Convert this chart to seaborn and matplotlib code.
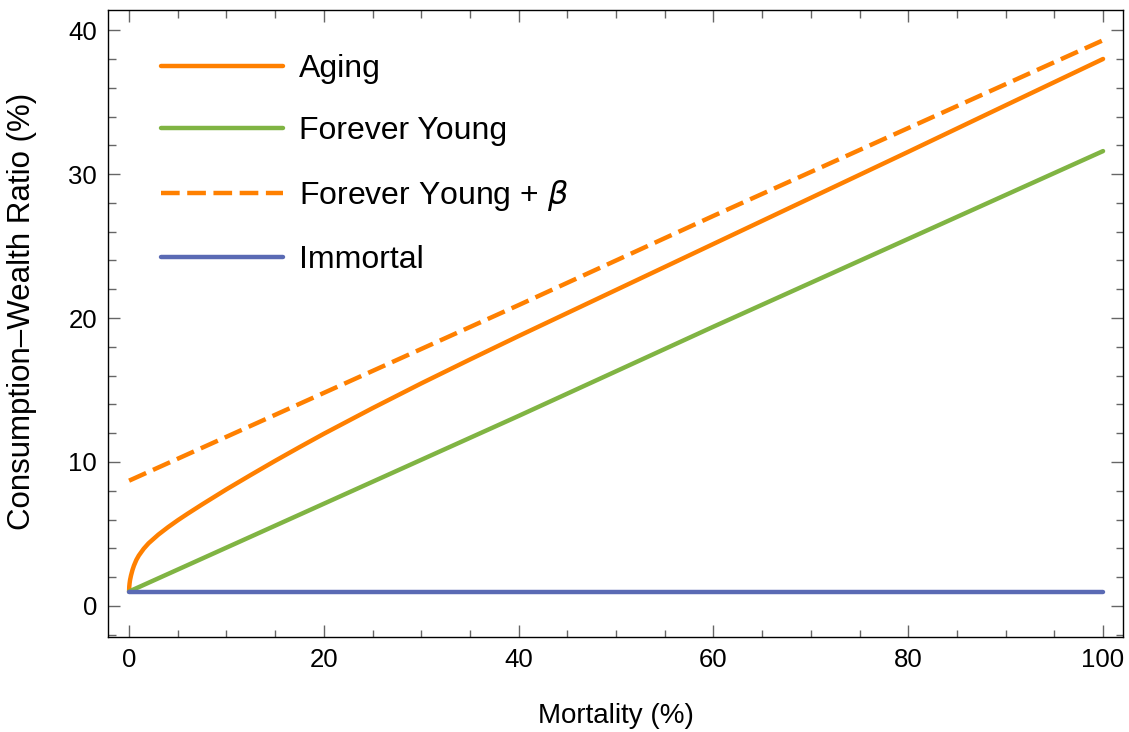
import numpy as np
import pandas as pd
import matplotlib.pyplot as plt
from matplotlib.ticker import MultipleLocator
import seaborn as sns

# values (mortality %, consumption-wealth ratio %)
mortality_aging = [0, 0.02, 0.05, 0.1, 0.2, 0.35, 0.5, 0.75, 1, 1.5, 2, 3, 4, 5, 6, 7.5, 10, 12.5, 15, 17.5,
                   20, 25, 30, 35, 40, 50, 60, 70, 80, 90, 100]
cw_aging = [1.0, 1.35, 1.56, 1.8, 2.12, 2.5, 2.8, 3.2, 3.5, 3.97, 4.35, 4.95, 5.47, 5.95, 6.4, 7.05, 8.1, 9.1,
            10.08, 11.03, 11.96, 13.74, 15.46, 17.12, 18.75, 21.95, 25.15, 28.35, 31.55, 34.78, 38.0]

mortality_lin = [0, 20, 40, 60, 80, 100]
cw_forever_young = [1.0, 7.1, 13.2, 19.4, 25.5, 31.6]
cw_forever_young_beta = [8.7, 14.8, 20.9, 27.1, 33.2, 39.3]
cw_immortal = [1.0, 1.0, 1.0, 1.0, 1.0, 1.0]

orange = '#FF8000'
green = '#80B443'
blue = '#5A6AB4'

sns.set_style("ticks")
plt.rcParams['font.family'] = ['Liberation Sans', 'DejaVu Sans']
plt.rcParams['mathtext.fontset'] = 'dejavusans'
plt.rcParams['text.color'] = 'black'
plt.rcParams['axes.labelcolor'] = 'black'

fig, ax = plt.subplots(figsize=(11.29, 7.32), dpi=100)
fig.subplots_adjust(left=0.0957, right=0.9947, top=0.9863, bottom=0.1298)

lw = 3.2
sns.lineplot(x=mortality_aging, y=cw_aging, ax=ax, color=orange, lw=lw, label='Aging')
sns.lineplot(x=mortality_lin, y=cw_forever_young, ax=ax, color=green, lw=lw, label='Forever Young')
sns.lineplot(x=mortality_lin, y=cw_forever_young_beta, ax=ax, color=orange, lw=lw,
             label=r'Forever Young + $\beta$')
ax.lines[-1].set_linestyle((0, (4.2, 1.7)))
ax.lines[-1].set_dash_capstyle('butt')
sns.lineplot(x=mortality_lin, y=cw_immortal, ax=ax, color=blue, lw=lw, label='Immortal')

ax.set_xlim(-2.16, 102.05)
ax.set_ylim(-2.16, 41.4)
ax.xaxis.set_major_locator(MultipleLocator(20))
ax.xaxis.set_minor_locator(MultipleLocator(5))
ax.yaxis.set_major_locator(MultipleLocator(10))
ax.yaxis.set_minor_locator(MultipleLocator(2))
ax.tick_params(which='both', direction='in', top=True, right=True, color='#666666', width=1.0,
               labelcolor='black')
ax.tick_params(which='major', length=8.6, pad=8, labelsize=18.5)
ax.tick_params(which='minor', length=5.4)
for sp in ax.spines.values():
    sp.set_linewidth(1.0)
    sp.set_color('black')

ax.set_xlabel('Mortality (%)', fontsize=20)
ax.set_ylabel('Consumption–Wealth Ratio (%)', fontsize=22.5)
ax.xaxis.set_label_coords(0.5, -0.106)
ax.yaxis.set_label_coords(-0.07, 0.52)

leg = ax.legend(loc='upper left', bbox_to_anchor=(0.024, 0.975), frameon=False, fontsize=23,
                handlelength=3.8, handletextpad=0.5, labelspacing=1.0)

plt.savefig('out.png', dpi=100)
